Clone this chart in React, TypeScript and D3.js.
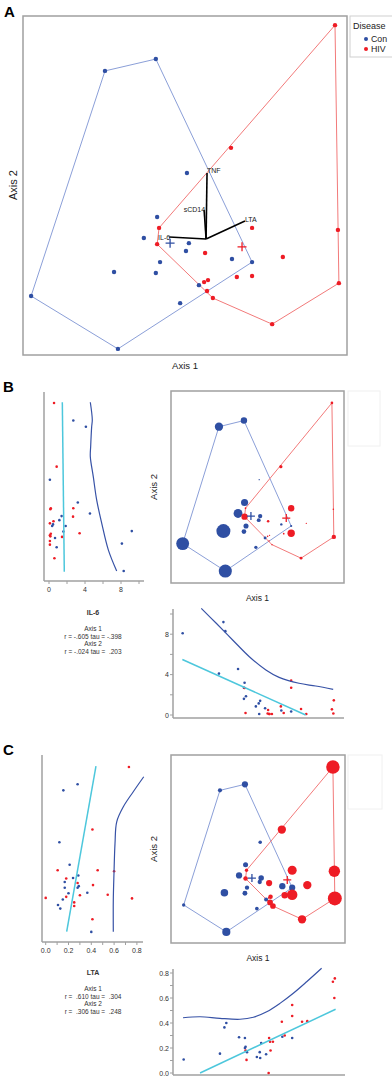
import * as d3 from 'd3'

const FONT = 'Liberation Sans, Arial, Helvetica, sans-serif'

const groupNames = ['Con', 'HIV']
const groupColors = ['#2f4fa3', '#ee1c25']
const hullColors = ['#8b9fd8', '#f27a7a']

// ordination scores (arbitrary units 0..1)
const conAxis1 = [0.253, 0.41, 0.506, 0.414, 0.373, 0.512, 0.503, 0.423, 0.645, 0.707, 0.281, 0.41, 0.543, 0.485, 0.025, 0.293]
const conAxis2 = [0.838, 0.873, 0.537, 0.407, 0.345, 0.33, 0.307, 0.274, 0.283, 0.274, 0.245, 0.242, 0.206, 0.153, 0.174, 0.018]
const conIL6 = [4.1, 2.7, 0.1, 3.2, 4.55, 1.4, 1.15, 1.85, 0.45, 0.35, 9.2, 1.6, 0.67, 0.85, 8.1, 8.3]
const conLTA = [0.155, 0.28, 0.12, 0.21, 0.286, 0.24, 0.167, 0.167, 0.29, 0.28, 0.365, 0.2, 0.15, 0.128, 0.108, 0.4]

const hivAxis1 = [0.963, 0.642, 0.972, 0.707, 0.42, 0.414, 0.562, 0.802, 0.559, 0.571, 0.66, 0.707, 0.568, 0.586, 0.769, 0.975]
const hivAxis2 = [0.973, 0.611, 0.369, 0.375, 0.375, 0.327, 0.301, 0.289, 0.215, 0.221, 0.23, 0.233, 0.189, 0.168, 0.091, 0.212]
const hivIL6 = [0.56, 0.85, 0.15, 2.7, 0.2, 2.67, 0.5, 0.1, 0.15, 0.1, 0.2, 3.4, 0.1, 0.1, 0.6, 1.45]
const hivLTA = [0.73, 0.41, 0.6, 0.456, 0.105, 0.18, 0.28, 0.415, 0.0, 0.18, 0.3, 0.544, 0.25, 0.25, 0.41, 0.757]

const centroidAxis1 = [0.454, 0.676]
const centroidAxis2 = [0.33, 0.319]

// biplot vectors
const vectorNames = ['TNF', 'sCD14', 'LTA', 'IL-6']
const vectorAxis1 = [0.568, 0.559, 0.685, 0.451]
const vectorAxis2 = [0.537, 0.428, 0.395, 0.348]
const vectorOrigin = [0.565, 0.342]

// fitted lines, IL-6
const il6FitIL6 = [1.48, 1.7]
const il6FitAxis2 = [0.977, 0.014]
const il6SmoothIL6 = [4.59, 4.81, 4.74, 4.63, 4.59, 4.92, 5.3, 5.86, 6.59, 7.52]
const il6SmoothAxis2 = [0.977, 0.877, 0.837, 0.726, 0.668, 0.554, 0.421, 0.289, 0.138, 0.018]
const il6FitAxis1 = [0.023, 0.798]
const il6FitIL6b = [5.5, 0.0]
const il6SmoothAxis1 = [0.142, 0.236, 0.339, 0.444, 0.548, 0.631, 0.756, 0.861, 0.971]
const il6SmoothIL6b = [10.56, 9.08, 7.43, 5.77, 4.46, 3.73, 3.14, 2.87, 2.54]

// fitted lines, LTA
const ltaFitLTA = [0.441, 0.184]
const ltaFitAxis2 = [0.979, 0.019]
const ltaSmoothLTA = [0.86, 0.768, 0.681, 0.623, 0.608, 0.599, 0.593, 0.593]
const ltaSmoothAxis2 = [0.917, 0.83, 0.743, 0.656, 0.531, 0.357, 0.203, 0.019]
const ltaFitAxis1 = [0.128, 0.98]
const ltaFitLTAb = [0.0, 0.51]
const ltaSmoothAxis1 = [0.021, 0.128, 0.253, 0.379, 0.463, 0.547, 0.63, 0.714, 0.798, 0.892]
const ltaSmoothLTAb = [0.442, 0.45, 0.437, 0.43, 0.446, 0.49, 0.557, 0.638, 0.73, 0.838]

const il6Ticks = [0, 2, 4, 6, 8, 10]
const il6Labels = [0, 4, 8]
const ltaTicks = [0, 0.1, 0.2, 0.3, 0.4, 0.5, 0.6, 0.7, 0.8]
const ltaLabels = [0, 0.2, 0.4, 0.6, 0.8]

const il6Stats = ['Axis 1', 'r = -.605 tau = -.398', 'Axis 2', 'r = -.024 tau =  .203']
const ltaStats = ['Axis 1', 'r =  .610 tau =  .304', 'Axis 2', 'r =  .306 tau =  .248']

const subjects = [
  ...conAxis1.map((a, i) => ({ g: 0, a1: a, a2: conAxis2[i], il6: conIL6[i], lta: conLTA[i] })),
  ...hivAxis1.map((a, i) => ({ g: 1, a1: a, a2: hivAxis2[i], il6: hivIL6[i], lta: hivLTA[i] })),
]

const AXIS = '#a0a0a0'
const SMOOTH = '#3752a6'
const FIT = '#4dc7dc'

function Ordination({ xs, ys, frame, radius, vectors, plus }) {
  const [x0, y0, x1, y1] = frame
  return (
    <g>
      <rect x={x0} y={y0} width={x1 - x0} height={y1 - y0} fill="#fff" stroke={AXIS} strokeWidth={1.5} />
      {groupNames.map((g, gi) => {
        const pts = subjects.filter((s) => s.g === gi).map((s) => [xs(s.a1), ys(s.a2)])
        const hull = d3.polygonHull(pts)
        return <path key={g} d={'M' + hull.join('L') + 'Z'} fill="none" stroke={hullColors[gi]} strokeWidth={1} />
      })}
      {subjects.map((s, i) => (
        <circle key={i} cx={xs(s.a1)} cy={ys(s.a2)} r={radius(s)} fill={groupColors[s.g]} />
      ))}
      {vectors &&
        vectorNames.map((n, i) => {
          const ex = xs(vectorAxis1[i])
          const ey = ys(vectorAxis2[i])
          const left = vectorAxis1[i] <= vectorOrigin[0] - 0.005
          return (
            <g key={n}>
              <line x1={xs(vectorOrigin[0])} y1={ys(vectorOrigin[1])} x2={ex} y2={ey} stroke="#000" strokeWidth={1.6} />
              <text x={left ? ex + 1 : ex} y={ey + (left ? 2.5 : 0.5)} textAnchor={left ? 'end' : 'start'} fontSize={7} fill="#222">
                {n}
              </text>
            </g>
          )
        })}
      {groupNames.map((g, gi) => {
        const cx = xs(centroidAxis1[gi])
        const cy = ys(centroidAxis2[gi])
        return (
          <path key={g} d={`M${cx - plus},${cy}H${cx + plus}M${cx},${cy - plus}V${cy + plus}`} stroke={groupColors[gi]} strokeWidth={1.3} />
        )
      })}
    </g>
  )
}

function PanelA() {
  const xs = d3.scaleLinear().domain([0, 1]).range([23, 347])
  const ys = d3.scaleLinear().domain([0, 1]).range([355, 16])
  return (
    <g>
      <text x={4} y={17} fontSize={15} fontWeight="bold">A</text>
      <Ordination xs={xs} ys={ys} frame={[23, 16, 347, 355]} radius={() => 2.2} vectors plus={4.5} />
      <text x={185} y={369} textAnchor="middle" fontSize={9.5} fill="#222">Axis 1</text>
      <text transform="translate(17,185) rotate(-90)" textAnchor="middle" fontSize={11} fill="#222">Axis 2</text>
      <rect x={350} y={16} width={60} height={41} fill="#fff" stroke="#cfcfcf" strokeWidth={1} />
      <text x={353} y={29} fontSize={9} fill="#222">Disease</text>
      {groupNames.map((g, gi) => (
        <g key={g}>
          <circle cx={366} cy={39 + gi * 10} r={2} fill={groupColors[gi]} />
          <text x={371} y={42 + gi * 10} fontSize={8.8} fill="#222">{g}</text>
        </g>
      ))}
    </g>
  )
}

function SidePanel({ letter, top, ordX, ordY, frame, radius, side, bottom, stats, varName, legendBox }) {
  const lineV = d3.line().x((d) => side.xs(d[0])).y((d) => ordY(d[1])).curve(d3.curveCatmullRom)
  const lineH = d3.line().x((d) => ordX(d[0])).y((d) => bottom.ys(d[1])).curve(d3.curveCatmullRom)
  const zip = (a, b) => a.map((v, i) => [v, b[i]])
  return (
    <g>
      <text x={3} y={top} fontSize={15} fontWeight="bold">{letter}</text>
      {/* left scatter: variable vs Axis 2 */}
      <line x1={side.x0} y1={side.y0} x2={side.x0} y2={side.y1} stroke={AXIS} strokeWidth={1.5} />
      <line x1={side.x0} y1={side.y1} x2={side.x1} y2={side.y1} stroke={AXIS} strokeWidth={1.5} />
      {side.ticks.map((t) => (
        <line key={t} x1={side.xs(t)} x2={side.xs(t)} y1={side.y1} y2={side.y1 + 3} stroke={AXIS} strokeWidth={1} />
      ))}
      {side.labels.map((t) => (
        <text key={t} x={side.xs(t)} y={side.y1 + 11} textAnchor="middle" fontSize={7} fill="#333">{side.fmt(t)}</text>
      ))}
      {subjects.map((s, i) => (
        <circle key={i} cx={side.xs(s[varName])} cy={ordY(s.a2)} r={1.3} fill={groupColors[s.g]} />
      ))}
      <path d={lineV(zip(side.fitV, side.fitA))} fill="none" stroke={FIT} strokeWidth={1.5} />
      <path d={lineV(zip(side.smV, side.smA))} fill="none" stroke={SMOOTH} strokeWidth={1.2} />

      {/* ordination */}
      <Ordination xs={ordX} ys={ordY} frame={frame} radius={radius} plus={4} />
      <rect x={legendBox[0]} y={legendBox[1]} width={legendBox[2]} height={legendBox[3]} fill="none" stroke="#f0f0f0" />
      <text x={(frame[0] + frame[2]) / 2} y={frame[3] + 18} textAnchor="middle" fontSize={8.5} fill="#222">Axis 1</text>
      <text transform={`translate(${frame[0] - 14},${(frame[1] + frame[3]) / 2}) rotate(-90)`} textAnchor="middle" fontSize={9.5} fill="#222">Axis 2</text>

      {/* stats text */}
      <text x={93} y={stats.y} textAnchor="middle" fontSize={7} fontWeight="bold" fill="#333">{stats.title}</text>
      {stats.lines.map((l, i) => (
        <text key={i} x={93} y={stats.y + 16 + i * 7.6} textAnchor="middle" fontSize={6.5} fill="#333" style={{ whiteSpace: 'pre' }}>{l}</text>
      ))}

      {/* bottom scatter: Axis 1 vs variable */}
      <line x1={173} y1={bottom.y0} x2={173} y2={bottom.y1} stroke={AXIS} strokeWidth={1.5} />
      <line x1={173} y1={bottom.y1} x2={bottom.x1} y2={bottom.y1} stroke={AXIS} strokeWidth={1.5} />
      {bottom.ticks.map((t) => (
        <line key={t} x1={170} x2={173} y1={bottom.ys(t)} y2={bottom.ys(t)} stroke={AXIS} strokeWidth={1} />
      ))}
      {bottom.labels.map((t) => (
        <text key={t} x={169} y={bottom.ys(t) + 2.5} textAnchor="end" fontSize={7} fill="#333">{side.fmt(t)}</text>
      ))}
      {subjects.map((s, i) => (
        <circle key={i} cx={ordX(s.a1)} cy={bottom.ys(s[varName])} r={1.3} fill={groupColors[s.g]} />
      ))}
      <path d={lineH(zip(bottom.fitA, bottom.fitV))} fill="none" stroke={FIT} strokeWidth={1.5} />
      <path d={lineH(zip(bottom.smA, bottom.smV))} fill="none" stroke={SMOOTH} strokeWidth={1.2} />
    </g>
  )
}

export default function App() {
  const bX = d3.scaleLinear().domain([0, 1]).range([178.7, 337.8])
  const bY = d3.scaleLinear().domain([0, 1]).range([574.2, 398.2])
  const cX = d3.scaleLinear().domain([0, 1]).range([179.7, 338.8])
  const cY = d3.scaleLinear().domain([0, 1]).range([935, 762.4])

  const il6Size = d3.scalePow().exponent(0.7).domain([0, 9.2]).range([0.4, 7])
  const ltaSize = d3.scaleLinear().domain([0, 0.76]).range([0.8, 7])

  const fmt0 = (t) => String(t)
  const fmt1 = (t) => t.toFixed(1)

  return (
    <svg width={392} height={1080} style={{ position: 'absolute', left: 0, top: 0, fontFamily: FONT, background: '#fff' }}>
      <rect width={392} height={1080} fill="#fff" />
      <PanelA />
      <SidePanel
        letter="B"
        top={392}
        ordX={bX}
        ordY={bY}
        frame={[171, 391, 344, 583]}
        radius={(s) => il6Size(s.il6)}
        varName="il6"
        legendBox={[348, 391, 32, 55]}
        side={{
          xs: d3.scaleLinear().domain([0, 10]).range([49, 139]),
          x0: 44, x1: 144, y0: 392, y1: 581,
          ticks: il6Ticks, labels: il6Labels, fmt: fmt0,
          fitV: il6FitIL6, fitA: il6FitAxis2, smV: il6SmoothIL6, smA: il6SmoothAxis2,
        }}
        bottom={{
          ys: d3.scaleLinear().domain([0, 8]).range([715, 634.2]),
          y0: 609, y1: 718, x1: 344,
          ticks: il6Ticks, labels: il6Labels,
          fitA: il6FitAxis1, fitV: il6FitIL6b, smA: il6SmoothAxis1, smV: il6SmoothIL6b,
        }}
        stats={{ y: 615, title: 'IL-6', lines: il6Stats }}
      />
      <SidePanel
        letter="C"
        top={755}
        ordX={cX}
        ordY={cY}
        frame={[171, 755, 345, 943]}
        radius={(s) => ltaSize(s.lta)}
        varName="lta"
        legendBox={[348, 755, 34, 54]}
        side={{
          xs: d3.scaleLinear().domain([0, 0.8]).range([45.7, 136.9]),
          x0: 42, x1: 143, y0: 755, y1: 942,
          ticks: ltaTicks, labels: ltaLabels, fmt: fmt1,
          fitV: ltaFitLTA, fitA: ltaFitAxis2, smV: ltaSmoothLTA, smA: ltaSmoothAxis2,
        }}
        bottom={{
          ys: d3.scaleLinear().domain([0, 0.8]).range([1073, 973]),
          y0: 969, y1: 1075, x1: 345,
          ticks: ltaTicks, labels: ltaLabels,
          fitA: ltaFitAxis1, fitV: ltaFitLTAb, smA: ltaSmoothAxis1, smV: ltaSmoothLTAb,
        }}
        stats={{ y: 975, title: 'LTA', lines: ltaStats }}
      />
    </svg>
  )
}
